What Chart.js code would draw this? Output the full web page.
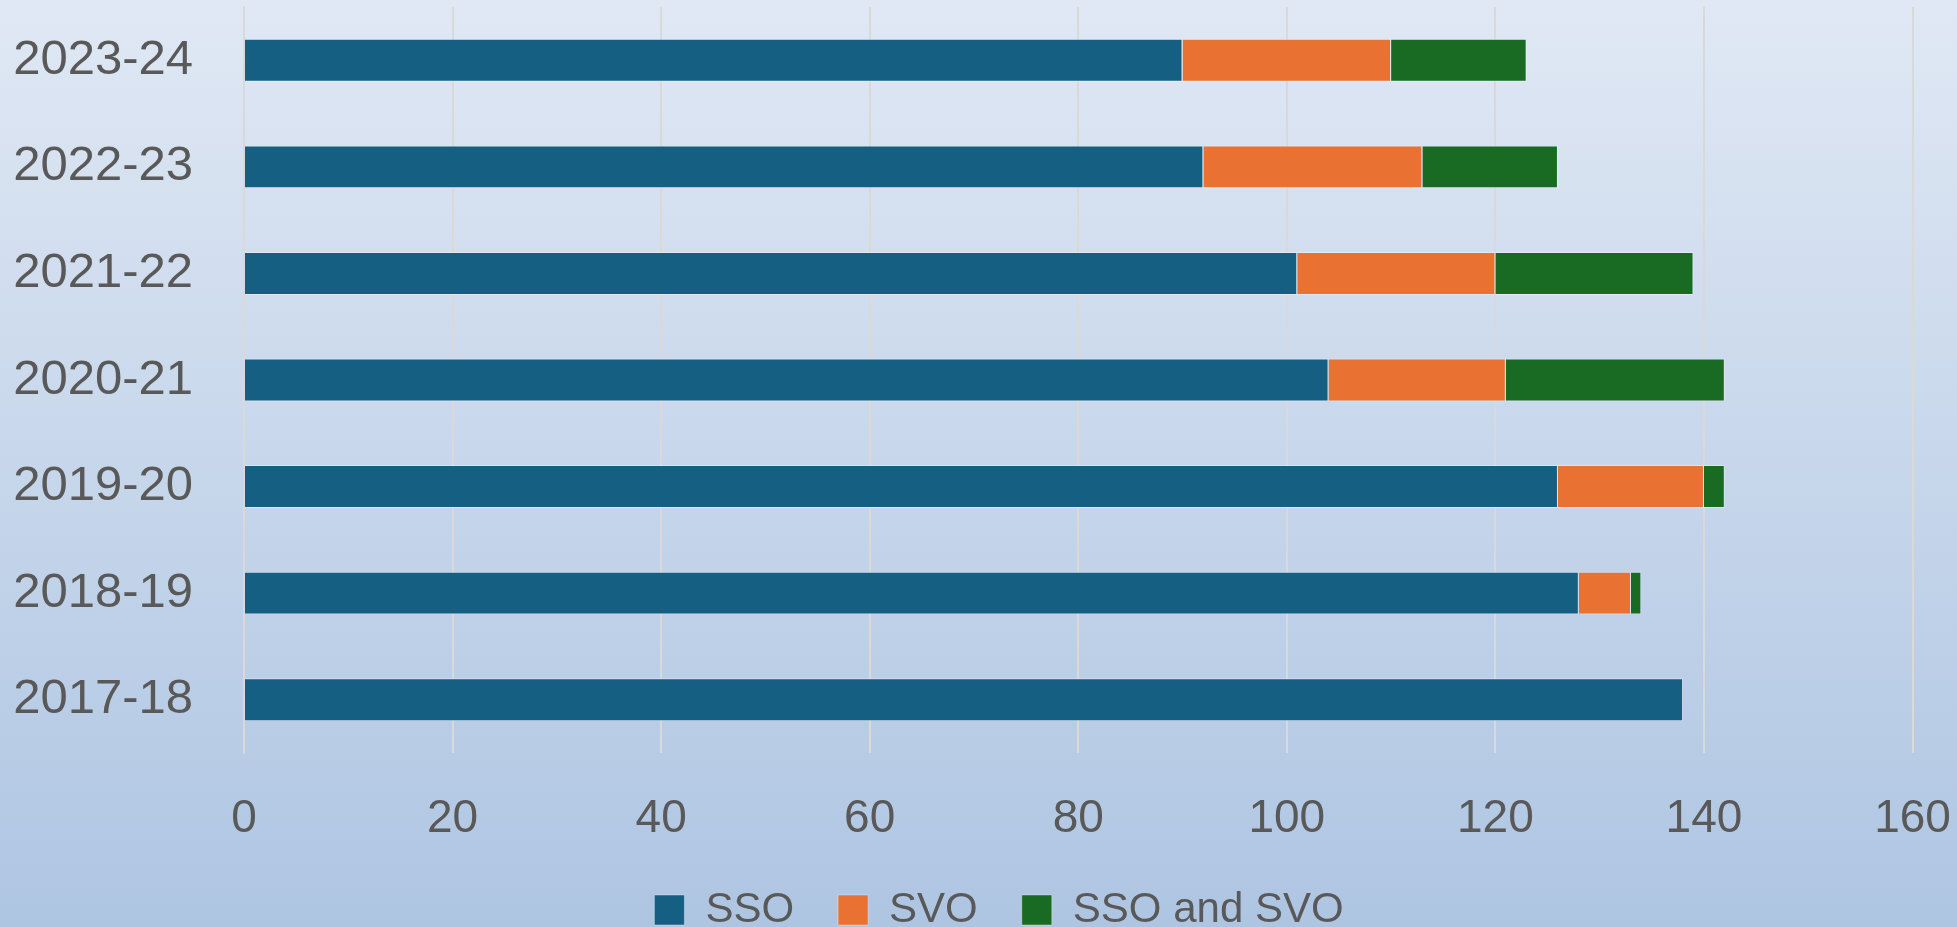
<!DOCTYPE html>
<html>
<head>
<meta charset="utf-8">
<script src="https://cdn.jsdelivr.net/npm/chart.js@4"></script>
<style>
  html, body { margin: 0; padding: 0; background: #c8d6ea; }
  #wrap { width: 1957px; height: 927px; position: relative; }
</style>
</head>
<body>
<div id="wrap"><canvas id="c" width="1957" height="927"></canvas></div>
<script>
const categories = ["2023-24", "2022-23", "2021-22", "2020-21", "2019-20", "2018-19", "2017-18"];
const sso = [90, 92, 101, 104, 126, 128, 138];
const svo = [20, 21, 19, 17, 14, 5, 0];
const ssoAndSvo = [13, 13, 19, 21, 2, 1, 0];
const xTicks = [0, 20, 40, 60, 80, 100, 120, 140, 160];

const bgPlugin = {
  id: 'bg',
  beforeDraw(chart) {
    const ctx = chart.ctx;
    const g = ctx.createLinearGradient(0, 0, 0, chart.height);
    g.addColorStop(0, '#e0e8f4');
    g.addColorStop(1, '#aec5e2');
    ctx.save();
    ctx.fillStyle = g;
    ctx.fillRect(0, 0, chart.width, chart.height);
    ctx.restore();
  }
};

// Shift the full-width legend so its centre matches the reference.
const legendShift = {
  id: 'legendShift',
  afterLayout(chart) {
    if (chart.legend) {
      chart.legend.left = 85.5;
    }
  }
};

const FONT = "'Liberation Sans', Arial, sans-serif";
const border = 'rgba(255,255,255,0.35)';

new Chart(document.getElementById('c'), {
  type: 'bar',
  data: {
    labels: categories,
    datasets: [
      { label: 'SSO', data: sso, backgroundColor: '#156082', borderColor: border, borderWidth: 1 },
      { label: 'SVO', data: svo, backgroundColor: '#E97132', borderColor: border, borderWidth: 1 },
      { label: 'SSO and SVO', data: ssoAndSvo, backgroundColor: '#196B24', borderColor: border, borderWidth: 1 }
    ]
  },
  options: {
    indexAxis: 'y',
    responsive: false,
    animation: false,
    devicePixelRatio: 1,
    datasets: { bar: { categoryPercentage: 1, barPercentage: 0.403 } },
    layout: { padding: { top: 7, right: 44.5, left: 0, bottom: -14 } },
    plugins: {
      legend: {
        position: 'bottom',
        labels: {
          boxWidth: 30, boxHeight: 30, padding: 44,
          color: '#595959',
          font: { family: FONT, size: 42 }
        }
      },
      tooltip: { enabled: false }
    },
    scales: {
      x: {
        stacked: true,
        min: 0, max: 160,
        afterBuildTicks(scale) { scale.ticks = xTicks.map(v => ({ value: v })); },
        afterFit(scale) { scale.height = 92; scale.paddingLeft = 0; scale.paddingRight = 0; },
        grid: { color: '#d9d9d9', lineWidth: 2, drawTicks: false },
        border: { display: false },
        ticks: { color: '#595959', padding: 39, maxRotation: 0, minRotation: 0, font: { family: FONT, size: 46 } }
      },
      y: {
        stacked: true,
        afterFit(scale) { scale.width = 244; scale.paddingTop = 0; scale.paddingBottom = 0; },
        grid: { display: false, drawTicks: false },
        border: { display: true, color: '#d9d9d9', width: 2 },
        ticks: { color: '#595959', padding: 51, font: { family: FONT, size: 49 } }
      }
    }
  },
  plugins: [bgPlugin, legendShift]
});
</script>
</body>
</html>
